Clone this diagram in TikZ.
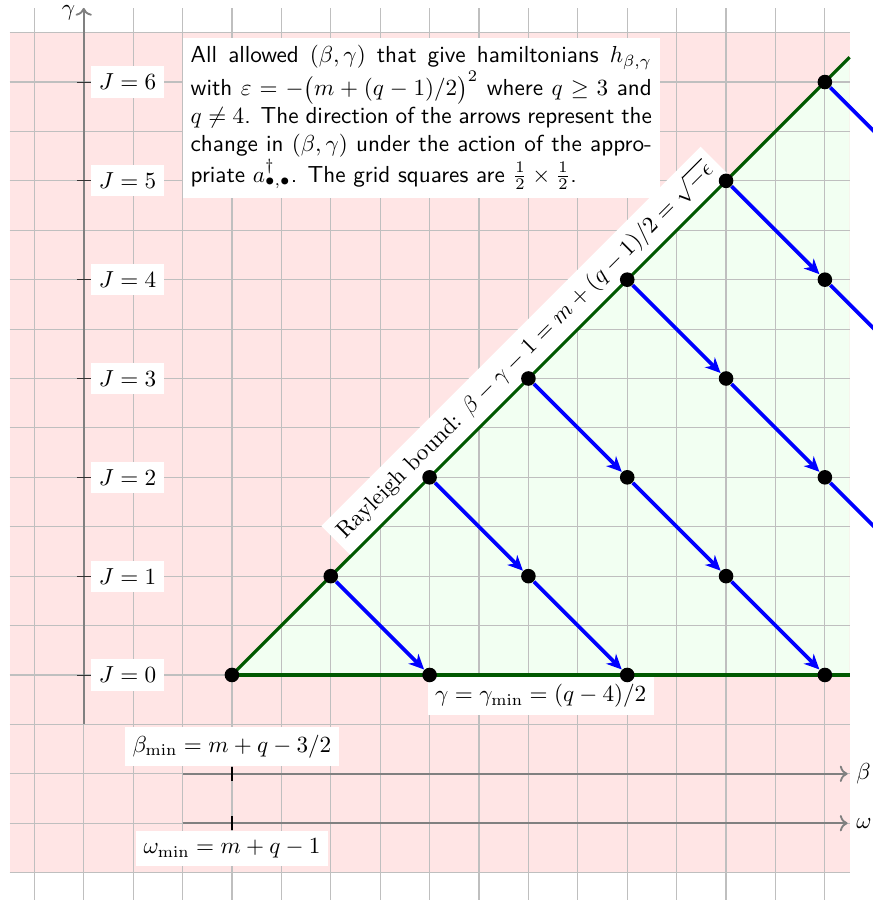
\documentclass[tikz,border=0pt]{standalone}
\usetikzlibrary{arrows.meta}
\begin{document}
\begin{tikzpicture}[x=1.5cm,y=1.5cm,
  gridline/.style={gray!50, line width=0.5pt},
  axisline/.style={gray, thick, ->},
  tickmark/.style={black, thick},
  bound/.style={green!35!black, line width=1.4pt},
  statedot/.style={circle, fill=black, inner sep=0pt, minimum size=6.3pt},
  movearrow/.style={blue, line width=1.6pt, -{Stealth[length=6.5pt,width=6pt,inset=2pt]}},
  lab/.style={fill=white, text=black}]
\useasboundingbox (-2.347,-2.277) rectangle (6.486,6.830);
\clip (-2.347,-2.277) rectangle (6.486,6.830);
% regions
\fill[red!10] (-2.25,-2) rectangle (6.25,6.5);
\fill[green!5] (0,0) -- (6.25,6.25) -- (6.25,0) -- cycle;
% grid
\foreach \i in {-4,...,12} \draw[gridline] (\i/2,-2.3) -- (\i/2,6.75);
\foreach \j in {-4,...,13} \draw[gridline] (-2.25,\j/2) -- (6.25,\j/2);
% gamma axis
\coordinate (gbot) at (-1.5,-0.5);
\coordinate (gtop) at (-1.5,6.75);
\draw[axisline] (gbot) -- (gtop) node[left, text=black, yshift=-2pt] (glab) {$\gamma$};
\foreach \k in {0,...,6} {
  \coordinate (tl\k) at (-1.57,\k);
  \coordinate (tr\k) at (-1.43,\k);
  \draw[black!80] (tl\k) -- (tr\k) node[right, lab] (J\k) {$J=\k$};
}
% beta and omega axes
\coordinate (bstart) at (-0.5,-1);
\coordinate (bend) at (6.23,-1);
\draw[axisline] (bstart) -- (bend) node[right, text=black] (blab) {$\beta$};
\coordinate (ostart) at (-0.5,-1.5);
\coordinate (oend) at (6.23,-1.5);
\draw[axisline] (ostart) -- (oend) node[right, text=black] (olab) {$\omega$};
\coordinate (bt1) at (0,-0.93);
\coordinate (bt2) at (0,-1.07);
\draw[tickmark] (bt2) -- (bt1) node[above, lab] (bmin) {$\beta_{\min}=m+q-3/2$};
\coordinate (ot1) at (0,-1.43);
\coordinate (ot2) at (0,-1.57);
\draw[tickmark] (ot1) -- (ot2) node[below, lab] (omin) {$\omega_{\min}=m+q-1$};
% bounds
\coordinate (corner) at (0,0);
\coordinate (diagend) at (6.25,6.25);
\coordinate (bottomend) at (6.25,0);
\draw[bound] (corner) -- (diagend)
  node[midway, above, sloped, lab] (rayl) {Rayleigh bound: $\beta-\gamma-1=m+(q-1)/2=\sqrt{-\epsilon}$};
\draw[bound] (corner) -- (bottomend)
  node[midway, below, lab] (gmin) {$\gamma=\gamma_{\min}=(q-4)/2$};
% dots
\foreach \b/\g in {0/0,2/0,4/0,6/0,1/1,3/1,5/1,2/2,4/2,6/2,3/3,5/3,4/4,6/4,5/5,6/6}
  \node[statedot] (d\b\g) at (\b,\g) {};
\coordinate (d71) at (7,1);
\coordinate (d73) at (7,3);
\coordinate (d75) at (7,5);
% arrows
\foreach \b/\g/\c/\h in {1/1/2/0,2/2/3/1,3/1/4/0,3/3/4/2,4/2/5/1,5/1/6/0,4/4/5/3,5/3/6/2,6/2/7/1,5/5/6/4,6/4/7/3,6/6/7/5}
  \draw[movearrow] (d\b\g) -- (d\c\h);
% info box
\node[anchor=north west, lab, text width=7cm, align=justify, font=\sffamily] (info) at (-0.5,6.455)
 {All allowed $(\beta,\gamma)$ that give hamiltonians $h_{\beta,\gamma}$ with $\varepsilon=-\bigl(m+(q-1)/2\bigr)^2$ where $q\geq 3$ and $q\neq 4$. The direction of the arrows represent the change in $(\beta,\gamma)$ under the action of the appro-\linebreak priate $a^\dagger_{\bullet,\bullet}$. The grid squares are $\frac12\times\frac12$.};
\end{tikzpicture}
\end{document}
